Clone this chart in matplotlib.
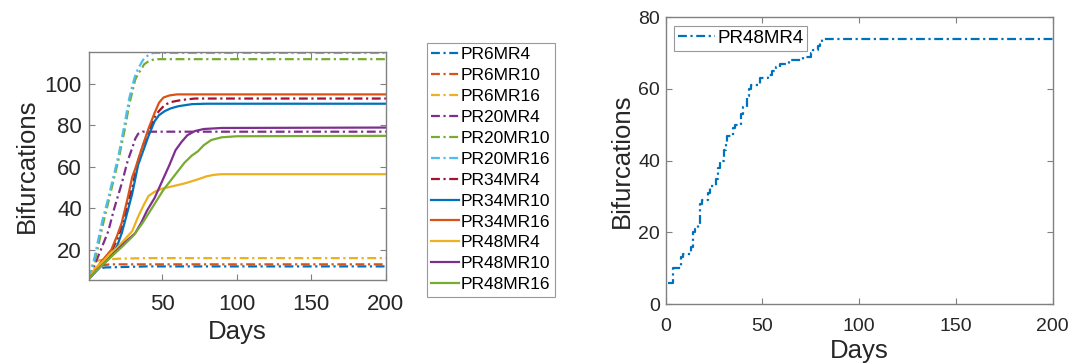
import matplotlib
matplotlib.use("Agg")
import matplotlib.pyplot as plt

plt.rcParams['font.family'] = ['Liberation Sans', 'DejaVu Sans']

# ---------------- data (left panel) ----------------
labels = ["PR6MR4", "PR6MR10", "PR6MR16", "PR20MR4", "PR20MR10", "PR20MR16",
          "PR34MR4", "PR34MR10", "PR34MR16", "PR48MR4", "PR48MR10", "PR48MR16"]

pr6mr4_days = [1, 3, 5, 8, 12, 40, 200]
pr6mr4_vals = [6, 8, 10, 11, 11.5, 12, 12]

pr6mr10_days = [1, 3, 6, 10, 15, 200]
pr6mr10_vals = [6, 9, 11.5, 12.5, 13, 13]

pr6mr16_days = [1, 2, 4, 8, 20, 40, 200]
pr6mr16_vals = [6, 10, 14, 15, 15.7, 16, 16]

pr20mr4_days = [1, 5, 9, 14, 18, 23, 27, 30, 32, 34, 37, 200]
pr20mr4_vals = [6, 13, 20, 29, 40, 52, 63, 69, 73.5, 76, 77, 77]

pr20mr10_days = [1, 3, 5, 7, 10, 14, 18, 21, 25, 28, 30, 32, 34, 36, 38, 41, 45, 200]
pr20mr10_vals = [6, 10, 15, 21, 31, 43, 55, 64, 78, 90, 96, 102, 105, 107, 109.5, 111, 112, 112]

pr20mr16_days = [1, 3, 5, 7, 10, 14, 18, 21, 25, 28, 30, 32, 34, 36, 38, 41, 44, 200]
pr20mr16_vals = [6, 11, 17, 24, 34, 45, 57, 66, 81, 93, 99, 104, 107.5, 110, 112.5, 114, 115, 115]

pr34mr4_days = [1, 5, 10, 16, 20, 23, 26, 30, 34, 37, 41, 45, 48, 52, 56, 63, 72, 200]
pr34mr4_vals = [6, 10, 14, 19, 25, 31, 39, 50, 63, 70, 77, 84, 87, 90, 91.3, 92.3, 93, 93]

pr34mr10_days = [1, 5, 10, 16, 20, 23, 26, 30, 34, 37, 41, 45, 48, 52, 56, 61, 70, 80, 200]
pr34mr10_vals = [6, 9, 13, 17, 22, 28, 36, 47, 61, 67, 75, 82, 85, 87, 88.3, 89.3, 90.3, 90.5, 90.5]

pr34mr16_days = [1, 5, 9, 16, 20, 23, 27, 30, 32, 36, 41, 45, 48, 51, 55, 60, 200]
pr34mr16_vals = [6, 10, 14, 20, 27, 33, 45, 55, 59, 68, 78.6, 86, 91, 93.5, 94.5, 95, 95]

pr48mr4_days = [1, 5, 10, 15, 20, 25, 30, 34, 38, 41, 45, 50, 56, 65, 74, 80, 85, 90, 200]
pr48mr4_vals = [6, 11, 14, 18, 21, 25, 29, 36, 42, 46, 48, 49.5, 50.5, 52, 54, 55.5, 56.2, 56.5, 56.5]

pr48mr10_days = [1, 6, 12, 18, 25, 32, 36, 40, 45, 50, 55, 59, 63, 67, 72, 78, 90, 200]
pr48mr10_vals = [6, 10, 14, 18.5, 23.5, 28, 33, 39, 45, 53, 61, 68, 72, 75.3, 77.3, 78.3, 78.8, 79]

pr48mr16_days = [1, 6, 15, 24, 31, 37, 44, 51, 58, 65, 70, 74, 78, 83, 90, 100, 200]
pr48mr16_vals = [6, 10, 16, 22, 27, 33, 41, 49, 55.5, 62, 65.5, 67.5, 70.5, 73, 74.3, 74.8, 75]

# ---------------- data (right panel, PR48MR4 single run) ----------------
right_days = [1, 4, 8, 9, 13, 14, 15, 17, 18, 19, 22, 23, 26, 27, 28, 30, 31, 32, 35, 36,
              39, 40, 42, 43, 44, 49, 53, 55, 57, 59, 64, 71, 75, 76, 79, 80, 81, 200]
right_vals = [6, 10, 13, 14, 16, 20, 21, 22, 28, 29, 31, 33, 35, 38, 40, 43, 45, 47, 49, 50,
              53, 55, 58, 60, 61, 63, 64, 65, 66, 67, 68, 69, 70, 71, 72, 73, 74, 74]

# ---------------- styling ----------------
mcol = ['#0072BD', '#D95319', '#EDB120', '#7E2F8E', '#77AC30', '#4DBEEE', '#A2142F']
series = [
    (pr6mr4_days, pr6mr4_vals), (pr6mr10_days, pr6mr10_vals), (pr6mr16_days, pr6mr16_vals),
    (pr20mr4_days, pr20mr4_vals), (pr20mr10_days, pr20mr10_vals), (pr20mr16_days, pr20mr16_vals),
    (pr34mr4_days, pr34mr4_vals), (pr34mr10_days, pr34mr10_vals), (pr34mr16_days, pr34mr16_vals),
    (pr48mr4_days, pr48mr4_vals), (pr48mr10_days, pr48mr10_vals), (pr48mr16_days, pr48mr16_vals),
]
dashdot = (0, (4, 1.6, 1, 1.6))

axcol = '#808080'
txtcol = '#262626'

fig = plt.figure(figsize=(10.84, 3.63), dpi=100)

def style_axes(ax, tick_fs):
    for sp in ax.spines.values():
        sp.set_color(axcol)
        sp.set_linewidth(1.0)
    ax.tick_params(direction='in', top=True, right=True, colors=axcol,
                   labelcolor=txtcol, labelsize=tick_fs, length=4, width=0.8)

# Left panel
ax1 = fig.add_axes([0.082, 0.229, 0.274, 0.628])
for i, ((d, v), lab) in enumerate(zip(series, labels)):
    ls = dashdot if i < 7 else '-'
    ax1.plot(d, v, color=mcol[i % 7], linestyle=ls, lw=1.6, label=lab)
ax1.set_xlim(1, 200)
ax1.set_ylim(5.5, 115.5)
ax1.set_xticks([50, 100, 150, 200])
ax1.set_yticks([20, 40, 60, 80, 100])
style_axes(ax1, 16)
ax1.tick_params(axis='x', pad=10)
ax1.tick_params(axis='y', pad=5)
ax1.set_xlabel('Days', fontsize=18.5, color=txtcol, labelpad=4)
ax1.set_ylabel('Bifurcations', fontsize=18.5, color=txtcol, labelpad=4)

leg1 = ax1.legend(loc='upper left', bbox_to_anchor=(427 / 1084, 1 - 43 / 363),
                  bbox_transform=fig.transFigure, fontsize=12.5, frameon=True,
                  fancybox=False, edgecolor=axcol, handlelength=1.6,
                  handletextpad=0.1, labelspacing=0.33, borderpad=0.25,
                  borderaxespad=0)
leg1.get_frame().set_linewidth(0.8)
for t in leg1.get_texts():
    t.set_color('black')

# Right panel
ax2 = fig.add_axes([0.614, 0.1625, 0.357, 0.79])
ax2.plot(right_days, right_vals, color=mcol[0], linestyle=dashdot, lw=1.6,
         drawstyle='steps-post', label='PR48MR4')
ax2.set_xlim(0, 200)
ax2.set_ylim(0, 80)
ax2.set_xticks([0, 50, 100, 150, 200])
ax2.set_yticks([0, 20, 40, 60, 80])
style_axes(ax2, 14)
ax2.tick_params(axis='x', pad=10)
ax2.tick_params(axis='y', pad=4)
ax2.set_xlabel('Days', fontsize=18.5, color=txtcol, labelpad=3)
ax2.set_ylabel('Bifurcations', fontsize=18.5, color=txtcol, labelpad=3)
leg2 = ax2.legend(loc='upper left', bbox_to_anchor=(674 / 1084, 1 - 26 / 363),
                  bbox_transform=fig.transFigure, fontsize=13.5, frameon=True,
                  fancybox=False, edgecolor=axcol, handlelength=2.0,
                  handletextpad=0.1, borderpad=0.2, borderaxespad=0)
leg2.get_frame().set_linewidth(0.8)
for t in leg2.get_texts():
    t.set_color('black')

fig.savefig('out.png', dpi=100)
